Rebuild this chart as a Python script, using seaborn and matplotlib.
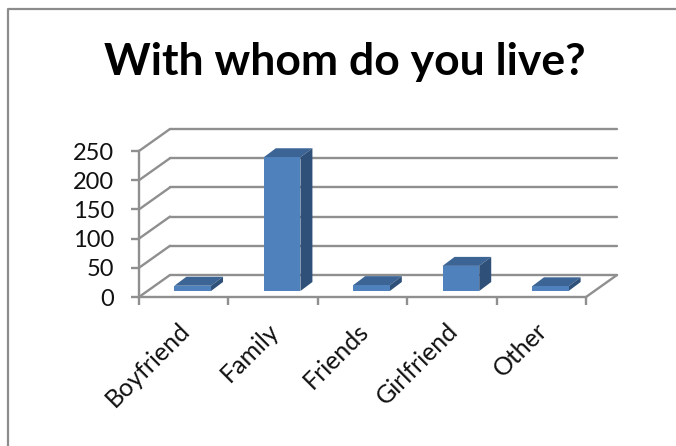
import matplotlib
matplotlib.use("Agg")
import matplotlib.pyplot as plt
import seaborn as sns
import pandas as pd
from matplotlib.lines import Line2D
from matplotlib.patches import Polygon
from matplotlib.transforms import Affine2D, IdentityTransform

title = "With whom do you live?"
categories = ["Boyfriend", "Family", "Friends", "Girlfriend", "Other"]
values = [9, 229, 10, 43, 8]
y_ticks = [0, 50, 100, 150, 200, 250]

W, H = 676, 446
GRID = "#8f8f8f"
FRONT, TOP, SIDE = "#4f81bd", "#3c6595", "#2f5079"
LW = 1.7

sns.set_theme(style="white")
plt.rcParams["font.family"] = ["Lato", "DejaVu Sans"]

fig = plt.figure(figsize=(W / 100, H / 100), dpi=100)
L, R, T, B = 139, 586, 151, 297
ax = fig.add_axes([L / W, 1 - B / H, (R - L) / W, (B - T) / H])
df = pd.DataFrame({"who": categories, "n": values})
sns.barplot(data=df, x="who", y="n", color=FRONT, saturation=1, width=0.41, ax=ax, zorder=5,
            linewidth=0, edgecolor="none")
ax.set_xlim(-0.5, 4.5)
ax.set_ylim(0, 250)
ax.set_xlabel("")
ax.set_ylabel("")
ax.set_yticks(y_ticks)
ax.set_xticks([-0.5, 0.5, 1.5, 2.5, 3.5, 4.5])
ax.set_xticklabels([])
ax.patch.set_alpha(0)
for s in ("top", "right"):
    ax.spines[s].set_visible(False)
for s in ("left", "bottom"):
    ax.spines[s].set_color(GRID)
    ax.spines[s].set_linewidth(LW)
ax.tick_params(axis="both", length=6, width=LW, color=GRID, bottom=True, left=True,
               labelsize=17, pad=12, labelcolor="#111111")

# Depth of the floor/walls and of the bars, in pixels
DX, DY = 31, 22
BAR_OFF = (9, 6)
BAR_DX, BAR_DY = 12, 9
back = ax.transData + Affine2D().translate(DX, DY)

for v in y_ticks:
    ax.plot([-0.5, 4.5], [v, v], color=GRID, lw=LW, transform=back, clip_on=False, zorder=1)
    x0, y0 = ax.transData.transform((-0.5, v))
    ax.add_line(Line2D([x0, x0 + DX], [y0, y0 + DY], color=GRID, lw=LW,
                       transform=IdentityTransform(), zorder=1, clip_on=False))
x0, y0 = ax.transData.transform((4.5, 0))
ax.add_line(Line2D([x0, x0 + DX], [y0, y0 + DY], color=GRID, lw=LW,
                   transform=IdentityTransform(), zorder=1, clip_on=False))

# Shift front faces into the floor and add top and side faces
for bar in list(ax.patches):
    (a, b), (c, d) = ax.transData.transform(
        [(bar.get_x(), 0), (bar.get_x() + bar.get_width(), bar.get_height())])
    a, c = a + BAR_OFF[0], c + BAR_OFF[0]
    b, d = b + BAR_OFF[1], d + BAR_OFF[1]
    bar.set_transform(bar.get_data_transform() + Affine2D().translate(*BAR_OFF))
    bar.set_clip_on(False)
    ax.add_patch(Polygon([(a, d), (c, d), (c + BAR_DX, d + BAR_DY), (a + BAR_DX, d + BAR_DY)],
                         facecolor=TOP, edgecolor="none", transform=IdentityTransform(),
                         zorder=4, clip_on=False))
    ax.add_patch(Polygon([(c, b), (c + BAR_DX, b + BAR_DY), (c + BAR_DX, d + BAR_DY), (c, d)],
                         facecolor=SIDE, edgecolor="none", transform=IdentityTransform(),
                         zorder=4, clip_on=False))

# Category labels, rotated and ending under each slot
for i, name in enumerate(categories):
    ax.annotate(name, xy=(i, 0), xycoords=ax.get_xaxis_transform(), xytext=(2, -30),
                textcoords="offset pixels", rotation=45, rotation_mode="anchor",
                ha="right", va="center", fontsize=18, color="#111111", annotation_clip=False)

fig.text(345 / W, 1 - 62 / H, title, ha="center", va="center", fontsize=32,
         fontweight="bold", color="black")

# Chart frame, cut off by the image on the right and bottom
fig.add_artist(Line2D([8, 8, W], [0, H - 9, H - 9], color="#8c8c8c", lw=1.6,
                      transform=IdentityTransform()))

fig.savefig("out.png", dpi=100)
